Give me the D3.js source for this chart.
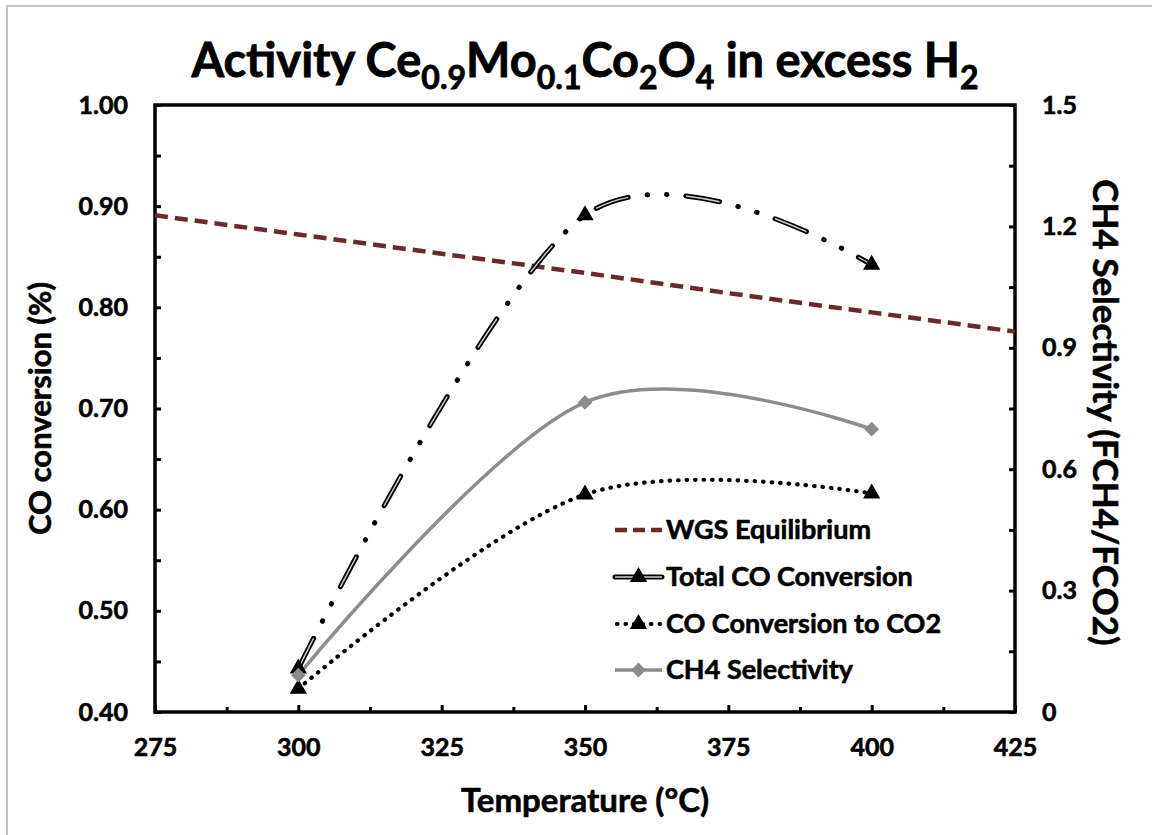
<!DOCTYPE html>
<html>
<head>
<meta charset="utf-8"/>
<title>Activity Ce0.9Mo0.1Co2O4 in excess H2</title>
<script src="https://cdn.jsdelivr.net/npm/d3@7"></script>
<style>
html, body {
    margin: 0;
    padding: 0;
    background: #fff;
}
svg text {
    font-family: Lato, "Open Sans", sans-serif;
    font-weight: bold;
    fill: #000;
    stroke: #000;
    stroke-width: 0.6px;
}
</style>
</head>
<body>
<svg id="chart"></svg>
<script>

// Values.
const temps = [300, 350, 400];
const totalCO = [0.443, 0.891, 0.842];
const coToCO2 = [0.423, 0.615, 0.616];
const ch4Sel = [0.091, 0.765, 0.699];
const wgsTemps = [275, 300, 325, 350, 375, 400, 425];
const wgsEq = [0.891, 0.872, 0.853, 0.834, 0.814, 0.795, 0.776];

// Tick labels.
const xTicks = [275, 300, 325, 350, 375, 400, 425];
const xMinor = [287.5, 312.5, 337.5, 362.5, 387.5, 412.5];
const yTicks = [0.40, 0.50, 0.60, 0.70, 0.80, 0.90, 1.00];
const yMinor = [0.45, 0.55, 0.65, 0.75, 0.85, 0.95];
const y2Ticks = [0, 0.3, 0.6, 0.9, 1.2, 1.5];
const y2Minor = [0.15, 0.45, 0.75, 1.05, 1.35];
const legendNames = ["WGS Equilibrium", "Total CO Conversion", "CO Conversion to CO2", "CH4 Selectivity"];

const W = 1152, H = 835;
const plot = {left: 155, right: 1015, top: 105, bottom: 712};
const brown = "#6b2a2a";
const grey = "#8c8c8c";

const svg = d3.select("#chart").attr("width", W).attr("height", H);

// Chart area border (only top and left visible in the shot).
svg.append("path")
    .attr("d", "M7," + H + "V6H" + W)
    .attr("fill", "none")
    .attr("stroke", "#c4c4c4")
    .attr("stroke-width", 2);

// Scales.
const x = d3.scaleLinear().domain([275, 425]).range([plot.left, plot.right]);
const y = d3.scaleLinear().domain([0.4, 1.0]).range([plot.bottom, plot.top]);
const y2 = d3.scaleLinear().domain([0, 1.5]).range([plot.bottom, plot.top]);

// Axes: ticks point inside.
function styleAxis(g) {
    g.select(".domain").remove();
    g.selectAll(".tick line").attr("stroke", "#000").attr("stroke-width", 3);
    g.selectAll(".tick text").style("font-size", "25px");
}

svg.append("g")
    .attr("transform", "translate(0," + plot.bottom + ")")
    .call(d3.axisBottom(x).tickValues(xTicks).tickSize(-7).tickPadding(26).tickFormat(d3.format("d")))
    .call(styleAxis);
svg.append("g")
    .attr("transform", "translate(0," + plot.bottom + ")")
    .call(d3.axisBottom(x).tickValues(xMinor).tickSize(-5).tickFormat(""))
    .call(styleAxis);

svg.append("g")
    .attr("transform", "translate(" + plot.left + ",0)")
    .call(d3.axisLeft(y).tickValues(yTicks).tickSize(-6).tickPadding(27).tickFormat(d3.format(".2f")))
    .call(styleAxis);
svg.append("g")
    .attr("transform", "translate(" + plot.left + ",0)")
    .call(d3.axisLeft(y).tickValues(yMinor).tickSize(-6).tickFormat(""))
    .call(styleAxis);

svg.append("g")
    .attr("transform", "translate(" + plot.right + ",0)")
    .call(d3.axisRight(y2).tickValues(y2Ticks).tickSize(-6).tickPadding(27).tickFormat(d => d === 0 ? "0" : d3.format(".1f")(d)))
    .call(styleAxis);
svg.append("g")
    .attr("transform", "translate(" + plot.right + ",0)")
    .call(d3.axisRight(y2).tickValues(y2Minor).tickSize(-6).tickFormat(""))
    .call(styleAxis);

// Plot frame.
svg.append("rect")
    .attr("x", plot.left).attr("y", plot.top)
    .attr("width", plot.right - plot.left).attr("height", plot.bottom - plot.top)
    .attr("fill", "none").attr("stroke", "#000").attr("stroke-width", 3.5);

// Lines.
const smooth = d3.curveCardinal.tension(0);
const lineLeft = d3.line().curve(smooth).x(d => x(d[0])).y(d => y(d[1]));
const lineRight = d3.line().curve(smooth).x(d => x(d[0])).y(d => y2(d[1]));
const lineWgs = d3.line().x(d => x(d[0])).y(d => y(d[1]));

const wgsData = d3.zip(wgsTemps, wgsEq);
const totalData = d3.zip(temps, totalCO);
const co2Data = d3.zip(temps, coToCO2);
const ch4Data = d3.zip(temps, ch4Sel);

const series = svg.append("g");

series.append("path")
    .attr("d", lineWgs(wgsData))
    .attr("fill", "none").attr("stroke", brown)
    .attr("stroke-width", 4.5).attr("stroke-dasharray", "13 7");

// Total CO: long dash + two dots, double line look.
function doubleDash(g, d) {
    g.append("path")
        .attr("d", d)
        .attr("fill", "none").attr("stroke", "#000")
        .attr("stroke-width", 5).attr("stroke-linecap", "round")
        .attr("stroke-dasharray", "34 19 0.5 19 0.5 19");
    g.append("path")
        .attr("d", d)
        .attr("fill", "none").attr("stroke", "#cfcfcf")
        .attr("stroke-width", 1.4)
        .attr("stroke-dasharray", "34 58.0");
}
doubleDash(series, lineLeft(totalData));

series.append("path")
    .attr("d", lineLeft(co2Data))
    .attr("fill", "none").attr("stroke", "#000")
    .attr("stroke-width", 4.2).attr("stroke-linecap", "round")
    .attr("stroke-dasharray", "0.5 8");

series.append("path")
    .attr("d", lineRight(ch4Data))
    .attr("fill", "none").attr("stroke", grey)
    .attr("stroke-width", 3.5);

// Markers.
const tri = d3.symbol().type(d3.symbolTriangle).size(130);
const dia = d3.symbol().type(d3.symbolSquare).size(110);

series.selectAll(".tri-total").data(totalData).join("path")
    .attr("class", "tri-total")
    .attr("d", tri)
    .attr("transform", d => "translate(" + x(d[0]) + "," + y(d[1]) + ")")
    .attr("fill", "#000");
series.selectAll(".tri-co2").data(co2Data).join("path")
    .attr("class", "tri-co2")
    .attr("d", tri)
    .attr("transform", d => "translate(" + x(d[0]) + "," + y(d[1]) + ")")
    .attr("fill", "#000");
series.selectAll(".dia").data(ch4Data).join("path")
    .attr("class", "dia")
    .attr("d", dia)
    .attr("transform", d => "translate(" + x(d[0]) + "," + y2(d[1]) + ") rotate(45)")
    .attr("fill", grey);

// Legend.
const legend = svg.append("g").attr("transform", "translate(615,0)");
const rowY = [530, 577, 624, 670];
const lx0 = 0, lx1 = 47, lmid = 23.5;

legend.append("line")
    .attr("x1", lx0).attr("x2", lx1).attr("y1", rowY[0]).attr("y2", rowY[0])
    .attr("stroke", brown).attr("stroke-width", 4.5).attr("stroke-dasharray", "12 6");

legend.append("line")
    .attr("x1", lx0).attr("x2", lx1).attr("y1", rowY[1]).attr("y2", rowY[1])
    .attr("stroke", "#000").attr("stroke-width", 5).attr("stroke-linecap", "round");
legend.append("line")
    .attr("x1", lx0).attr("x2", lx1).attr("y1", rowY[1]).attr("y2", rowY[1])
    .attr("stroke", "#cfcfcf").attr("stroke-width", 1.4);
legend.append("path").attr("d", tri)
    .attr("transform", "translate(" + lmid + "," + rowY[1] + ")").attr("fill", "#000");

legend.append("line")
    .attr("x1", lx0 + 2).attr("x2", lx1).attr("y1", rowY[2]).attr("y2", rowY[2])
    .attr("stroke", "#000").attr("stroke-width", 4.2).attr("stroke-linecap", "round")
    .attr("stroke-dasharray", "0.5 8");
legend.append("path").attr("d", tri)
    .attr("transform", "translate(" + lmid + "," + rowY[2] + ")").attr("fill", "#000");

legend.append("line")
    .attr("x1", lx0).attr("x2", lx1).attr("y1", rowY[3]).attr("y2", rowY[3])
    .attr("stroke", grey).attr("stroke-width", 3.5);
legend.append("path").attr("d", dia)
    .attr("transform", "translate(" + lmid + "," + rowY[3] + ") rotate(45)").attr("fill", grey);

legend.selectAll(".lt").data(legendNames).join("text")
    .attr("class", "lt")
    .attr("x", 51)
    .attr("y", (d, i) => rowY[i])
    .attr("dy", "0.35em")
    .style("font-size", "27px")
    .text(d => d);

// Title with subscripts.
const title = svg.append("text")
    .attr("x", (plot.left + plot.right) / 2)
    .attr("y", 77)
    .attr("text-anchor", "middle")
    .style("font-size", "47px")
    .style("stroke-width", "0.8px");
const parts = [["Activity Ce", 0], ["0.9", 1], ["Mo", 0], ["0.1", 1], ["Co", 0], ["2", 1], ["O", 0], ["4", 1], [" in excess H", 0], ["2", 1]];
let prevSub = 0;
parts.forEach(function(p) {
    title.append("tspan")
        .attr("dy", (p[1] - prevSub) * 12)
        .style("font-size", p[1] ? "32px" : "47px")
        .text(p[0]);
    prevSub = p[1];
});

// Axis titles.
svg.append("text")
    .attr("transform", "translate(40," + ((plot.top + plot.bottom) / 2) + ") rotate(-90)")
    .attr("text-anchor", "middle").attr("dy", "0.35em")
    .style("font-size", "31px")
    .text("CO conversion (%)");

svg.append("text")
    .attr("transform", "translate(1105," + ((plot.top + plot.bottom) / 2 + 4) + ") rotate(90)")
    .attr("text-anchor", "middle").attr("dy", "0.35em")
    .style("font-size", "35px")
    .text("CH4 Selectivity (FCH4/FCO2)");

svg.append("text")
    .attr("x", (plot.left + plot.right) / 2)
    .attr("y", 800)
    .attr("text-anchor", "middle").attr("dy", "0.35em")
    .style("font-size", "33px")
    .text("Temperature (°C)");

</script>
</body>
</html>
